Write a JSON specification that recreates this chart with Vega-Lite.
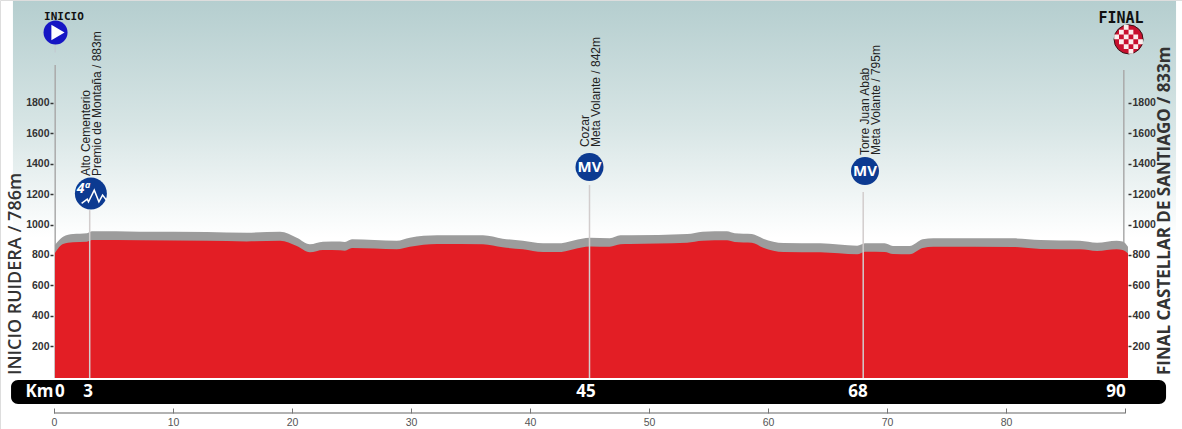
{
"$schema":"https://vega.github.io/schema/vega-lite/v6.json",
"width":1182,"height":429,"padding":0,
"autosize":{"type":"fit","contains":"padding"},
"background":"#ffffff",
"datasets":{
"profile":[
{"km":0.08,"elev":812,"top":865},{"km":0.76,"elev":872,"top":920},{"km":1.6,"elev":883,"top":937},{"km":2.77,"elev":887,"top":942},{"km":3.19,"elev":898,"top":955},{"km":7.23,"elev":896,"top":953},{"km":12.86,"elev":893,"top":951},{"km":16.2,"elev":889,"top":946},{"km":19.0,"elev":893,"top":953},{"km":20.4,"elev":858,"top":913},{"km":21.5,"elev":817,"top":870},{"km":22.6,"elev":832,"top":887},{"km":24.03,"elev":830,"top":889},{"km":24.45,"elev":827,"top":885},{"km":25.04,"elev":845,"top":903},{"km":28.8,"elev":837,"top":893},{"km":29.9,"elev":854,"top":913},{"km":32.2,"elev":872,"top":929},{"km":36.05,"elev":870,"top":929},{"km":37.7,"elev":850,"top":907},{"km":39.4,"elev":837,"top":893},{"km":41.1,"elev":819,"top":876},{"km":42.3,"elev":819,"top":876},{"km":45.04,"elev":856,"top":913},{"km":46.7,"elev":854,"top":909},{"km":47.6,"elev":870,"top":929},{"km":48.4,"elev":872,"top":929},{"km":53.2,"elev":880,"top":937},{"km":54.5,"elev":893,"top":953},{"km":56.55,"elev":896,"top":955},{"km":57.2,"elev":885,"top":942},{"km":58.65,"elev":880,"top":937},{"km":59.6,"elev":847,"top":907},{"km":61.3,"elev":819,"top":878},{"km":64.4,"elev":817,"top":876},{"km":67.5,"elev":804,"top":860},{"km":68.15,"elev":821,"top":876},{"km":69.8,"elev":819,"top":876},{"km":70.5,"elev":806,"top":858},{"km":71.9,"elev":804,"top":858},{"km":73.0,"elev":845,"top":903},{"km":73.9,"elev":854,"top":909},{"km":80.6,"elev":852,"top":909},{"km":82.9,"elev":839,"top":898},{"km":86.2,"elev":837,"top":893},{"km":87.65,"elev":826,"top":880},{"km":89.3,"elev":837,"top":893},{"km":89.8,"elev":832,"top":889},{"km":90.25,"elev":810,"top":854}
],
"endLines":[{"km":0.1,"elev":2050},{"km":89.9,"elev":2017}],
"passLines":[{"km":3,"elev":1095},{"km":45,"elev":1260},{"km":68,"elev":1214}],
"passLabels":[
{"km":2.67,"elev":1319,"label":"Alto Cementerio\nPremio de Montaña / 883m"},
{"km":44.6,"elev":1510,"label":"Cozar\nMeta Volante / 842m"},
{"km":68.17,"elev":1457,"label":"Torre Juan Abab\nMeta Volante / 795m"}
],
"mv":[{"km":45,"elev":1378,"label":"MV"},{"km":68.15,"elev":1352,"label":"MV"}],
"kmLabels":[{"km":-1.22,"elev":-103,"label":"Km"},{"km":0.5,"elev":-103,"label":"0"},{"km":2.86,"elev":-103,"label":"3"},{"km":44.7,"elev":-103,"label":"45"},{"km":67.56,"elev":-103,"label":"68"},{"km":89.24,"elev":-103,"label":"90"}]
},
"resolve":{"axis":{"y":"independent"}},
"encoding":{
"x":{"field":"km","type":"quantitative","title":null,"scale":{"domain":[-4.538,94.79],"nice":false,"zero":false},
  "axis":{"orient":"bottom","offset":-16,"values":[0,10,20,30,40,50,60,70,80,90],"domain":false,"grid":false,"tickSize":-5,"tickWidth":1,"tickColor":"#777777","labelPadding":9,"labelFont":"Liberation Sans","labelFontSize":10.5,"labelColor":"#555555","zindex":1,"labelExpr":"datum.value==90?'':datum.label"}},
"y":{"field":"elev","type":"quantitative","title":null,"axis":null,"scale":{"domain":[-346,2478],"nice":false,"zero":false}}
},
"layer":[
{"data":{"values":[{"km":-3.45,"km2":94.29,"elev":2471,"elev2":832}]},
 "mark":{"type":"rect","color":{"gradient":"linear","x1":0,"y1":0,"x2":0,"y2":1,"stops":[{"offset":0,"color":"#b5cecf"},{"offset":0.5,"color":"#d7e5e5"},{"offset":0.95,"color":"#ffffff"},{"offset":1,"color":"#ffffff"}]}},
 "encoding":{"x2":{"field":"km2"},"y2":{"field":"elev2"}}},
{"data":{"name":"endLines"},"mark":{"type":"rule","color":"#aaaaaa","strokeWidth":1.5},"encoding":{"y2":{"datum":-10}}},
{"data":{"values":[{"km":0.1,"elev":2195,"elev2":2133}]},"mark":{"type":"rule","color":"#c3cdd2","strokeWidth":1.5},"encoding":{"y2":{"field":"elev2"}}},
{"data":{"name":"profile"},"mark":{"type":"area","color":"#9c9c9c","interpolate":"monotone"},
 "encoding":{"y":{"field":"top","type":"quantitative","title":null,"scale":{"domain":[-346,2478],"nice":false,"zero":false},
  "axis":{"orient":"right","offset":-54,"values":[200,400,600,800,1000,1200,1400,1600,1800],"domain":false,"grid":false,"tickSize":3,"tickWidth":1.5,"tickColor":"#333333","labelPadding":1,"labelFont":"Liberation Sans","labelFontWeight":"bold","labelFontSize":10.5,"labelColor":"#333333","zindex":1,"format":"d"}},
  "y2":{"datum":-10}}},
{"data":{"name":"profile"},"mark":{"type":"area","color":"#e31e25","interpolate":"monotone"},
 "encoding":{"y":{"field":"elev","type":"quantitative","title":null,"scale":{"domain":[-346,2478],"nice":false,"zero":false},
  "axis":{"orient":"left","offset":-53,"values":[200,400,600,800,1000,1200,1400,1600,1800],"domain":false,"grid":false,"tickSize":3,"tickWidth":1.5,"tickColor":"#333333","labelPadding":1,"labelFont":"Liberation Sans","labelFontWeight":"bold","labelFontSize":10.5,"labelColor":"#333333","zindex":1,"format":"d"}},
  "y2":{"datum":-10}}},
{"data":{"name":"passLines"},"mark":{"type":"rule","color":"#d2cdcd","strokeWidth":1.5},"encoding":{"y2":{"datum":-10}}},
{"data":{"values":[{"km":-3.61,"km2":93.45,"elev":-24,"elev2":-182}]},"mark":{"type":"rect","color":"#000000","cornerRadius":7},"encoding":{"x2":{"field":"km2"},"y2":{"field":"elev2"}}},
{"data":{"values":[{"km":0,"km2":90,"elev":-241}]},"mark":{"type":"rule","color":"#999999","strokeWidth":1.5},"encoding":{"x2":{"field":"km2"}}},
{"data":{"name":"mv"},"mark":{"type":"point","shape":"circle","filled":true,"size":784,"color":"#0c3a91","opacity":1}},
{"data":{"name":"mv"},"mark":{"type":"text","font":"Open Sans","fontWeight":"bold","fontSize":15,"color":"#ffffff","baseline":"middle","align":"center"},"encoding":{"text":{"field":"label"}}},
{"data":{"values":[{"km":3.1,"elev":1204}]},"mark":{"type":"point","shape":"circle","filled":true,"size":1024,"color":"#0c3a91","opacity":1}},
{"data":{"values":[{"km":3.1,"elev":1204}]},"mark":{"type":"point","shape":"M-0.58,0.62L-0.23,0.35L-0.15,0.52L0.21,-0.21L0.5,0.52L0.73,0.1L0.98,0.42","filled":false,"size":1024,"stroke":"#ffffff","strokeWidth":1.5,"opacity":1}},
{"data":{"values":[{"km":2.45,"elev":1235,"label":"4ª"}]},"mark":{"type":"text","font":"Open Sans","fontWeight":"bold","fontStyle":"italic","fontSize":14,"color":"#ffffff","baseline":"middle","align":"center"},"encoding":{"text":{"field":"label"}}},
{"data":{"values":[{"km":0.13,"elev":2264}]},"mark":{"type":"point","shape":"circle","filled":true,"size":576,"color":"#1616c4","opacity":1}},
{"data":{"values":[{"km":0.13,"elev":2264}]},"mark":{"type":"point","shape":"M-0.35,-0.65L0.75,0L-0.35,0.65Z","filled":true,"size":576,"color":"#ffffff","opacity":1}},
{"data":{"values":[{"km":90.3,"elev":2219}]},"mark":{"type":"point","shape":"circle","filled":true,"size":841,"fill":"#c8102e","stroke":"#3a1015","strokeWidth":1,"opacity":1}},
{"data":{"values":[{"km":90.3,"elev":2219}]},"mark":{"type":"point","shape":"M-0.99,-0.33h0.33v0.33h-0.33zM-0.66,-0.66h0.33v0.33h-0.33zM-0.66,0h0.33v0.33h-0.33zM-0.33,-0.99h0.33v0.33h-0.33zM-0.33,-0.33h0.33v0.33h-0.33zM-0.33,0.33h0.33v0.33h-0.33zM0,-0.66h0.33v0.33h-0.33zM0,0h0.33v0.33h-0.33zM0,0.66h0.33v0.33h-0.33zM0.33,-0.33h0.33v0.33h-0.33zM0.33,0.33h0.33v0.33h-0.33zM0.66,0h0.33v0.33h-0.33z","filled":true,"size":841,"color":"#fbeeee","opacity":1}},
{"data":{"name":"passLabels"},"mark":{"type":"text","font":"Liberation Sans","fontSize":12,"color":"#222222","angle":270,"align":"left","baseline":"middle","lineBreak":"\n","lineHeight":11},"encoding":{"text":{"field":"label"}}},
{"data":{"name":"kmLabels"},"mark":{"type":"text","font":"Open Sans","fontWeight":"bold","fontSize":17,"color":"#ffffff","align":"center","baseline":"middle"},"encoding":{"text":{"field":"label"}}},
{"data":{"values":[{"km":0.84,"elev":2366,"label":"INICIO"}]},"mark":{"type":"text","font":"DejaVu Sans Mono","fontWeight":"bold","fontSize":11,"color":"#111111","align":"center","baseline":"middle"},"encoding":{"text":{"field":"label"}}},
{"data":{"values":[{"km":89.66,"elev":2359,"label":"FINAL"}]},"mark":{"type":"text","font":"DejaVu Sans Mono","fontWeight":"bold","fontSize":15,"letterSpacing":1.6,"color":"#111111","align":"center","baseline":"middle"},"encoding":{"text":{"field":"label"}}},
{"data":{"values":[{"km":-3.2,"elev":9,"label":"INICIO RUIDERA / 786m"}]},"mark":{"type":"text","font":"Open Sans","fontWeight":600,"fontSize":18,"color":"#333333","angle":270,"align":"left","baseline":"middle"},"encoding":{"text":{"field":"label"}}},
{"data":{"values":[{"km":93.4,"elev":9,"label":"FINAL CASTELLAR DE SANTIAGO / 833m"}]},"mark":{"type":"text","font":"Open Sans","fontWeight":"bold","fontSize":17,"color":"#333333","angle":270,"align":"left","baseline":"middle"},"encoding":{"text":{"field":"label"}}}
]
}
